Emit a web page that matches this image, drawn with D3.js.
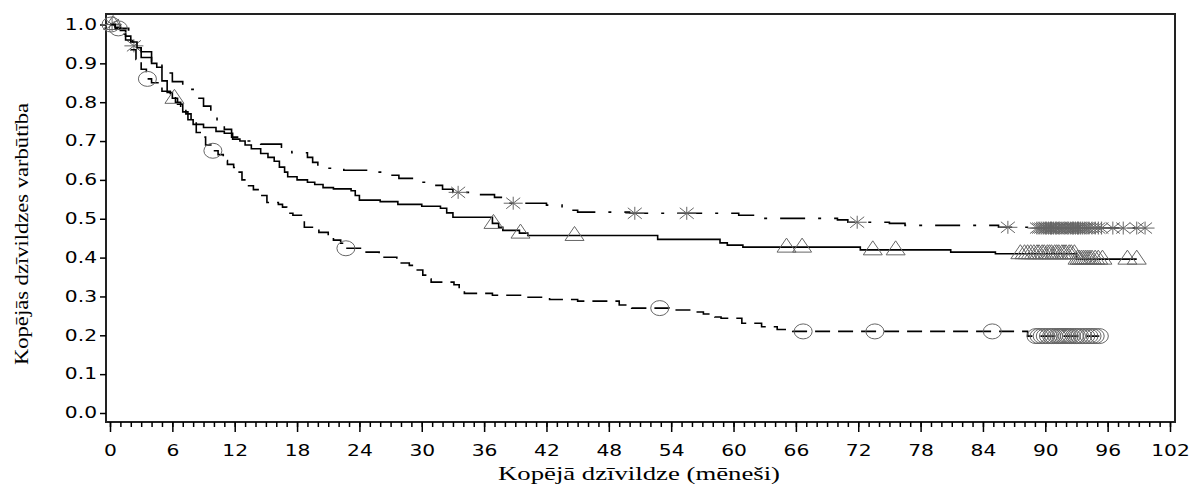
<!DOCTYPE html>
<html>
<head>
<meta charset="utf-8">
<script src="https://d3js.org/d3.v7.min.js"></script>
<style>
  body { margin: 0; background: #fff; }
  .axis text { font-family: "DejaVu Sans", sans-serif; font-size: 15px; fill: #000; }
  .axis line { stroke: #000; stroke-width: 1.5; }
  .title { font-family: "Liberation Serif", "Times New Roman", serif; font-size: 19px; fill: #000; }
</style>
</head>
<body>
<div id="chart"></div>
<script>
// Tick labels
const xTicks = [0, 6, 12, 18, 24, 30, 36, 42, 48, 54, 60, 66, 72, 78, 84, 90, 96, 102];
const yTicks = [0, 0.1, 0.2, 0.3, 0.4, 0.5, 0.6, 0.7, 0.8, 0.9, 1.0];

// Group 1: dash-dot, asterisk censor marks
const months1 = [0, 1, 1.8, 2.2, 3, 4, 5, 6, 7, 8, 9, 9.7, 10.3, 11, 11.7, 12.5, 14.5, 16.5, 17.5, 19, 19.5, 20, 21, 22.5, 25, 26.5, 27.8, 29.5, 31, 32, 33, 35.5, 37, 38, 38.5, 42, 43.5, 45, 50, 60.5, 62, 70, 71, 75, 76.5, 85.5, 88.5, 99.6];
const surv1 = [1, 0.99, 0.965, 0.945, 0.93, 0.905, 0.875, 0.853, 0.833, 0.81, 0.79, 0.77, 0.75, 0.73, 0.71, 0.70, 0.692, 0.684, 0.67, 0.658, 0.645, 0.635, 0.63, 0.625, 0.62, 0.612, 0.604, 0.594, 0.586, 0.576, 0.568, 0.562, 0.555, 0.545, 0.54, 0.535, 0.522, 0.517, 0.514, 0.509, 0.501, 0.497, 0.491, 0.488, 0.483, 0.478, 0.476, 0.476];
const censor1 = [0.2, 2.3, 33.5, 38.8, 50.5, 55.5, 71.9, 86.4, 89.2, 89.4, 89.6, 89.8, 90, 90.1, 90.3, 90.5, 90.6, 90.8, 91, 91.1, 91.3, 91.4, 91.6, 91.8, 91.9, 92.1, 92.2, 92.4, 92.6, 92.7, 92.9, 93.1, 93.2, 93.4, 93.6, 93.8, 94, 94.2, 94.5, 94.8, 95.1, 95.4, 96.5, 97.5, 98.8, 99.6];

// Group 2: solid, triangle censor marks
const months2 = [0, 0.5, 1, 1.5, 2, 2.6, 3, 4, 4.5, 5, 5.5, 6, 6.5, 7, 7.5, 8, 9, 10.2, 11, 11.8, 12.5, 13, 13.6, 14.5, 15.2, 15.8, 16.3, 16.8, 17.1, 18, 19, 19.7, 20.5, 21.5, 23.2, 23.6, 24, 26, 27.7, 30, 31.8, 32.4, 33, 36.8, 37.4, 37.8, 39.4, 40.2, 52.7, 58.7, 59.4, 60.9, 72.2, 80.9, 85.2, 93, 98.8];
const surv2 = [1, 0.993, 0.985, 0.97, 0.955, 0.94, 0.915, 0.9, 0.89, 0.855, 0.825, 0.81, 0.795, 0.775, 0.755, 0.743, 0.735, 0.725, 0.72, 0.705, 0.70, 0.69, 0.68, 0.668, 0.658, 0.648, 0.633, 0.62, 0.608, 0.60, 0.594, 0.588, 0.58, 0.577, 0.572, 0.56, 0.548, 0.544, 0.537, 0.532, 0.527, 0.515, 0.504, 0.488, 0.478, 0.47, 0.463, 0.457, 0.447, 0.438, 0.432, 0.427, 0.42, 0.414, 0.41, 0.396, 0.396];
const censor2 = [0.3, 6.2, 36.9, 39.5, 44.7, 65.1, 66.6, 73.4, 75.6, 87.6, 88, 88.3, 88.6, 88.9, 89.2, 89.4, 89.7, 89.9, 90.2, 90.4, 90.6, 90.9, 91.1, 91.3, 91.6, 91.8, 92, 92.3, 92.5, 92.8, 93.1, 93.3, 93.5, 93.7, 93.9, 94.1, 94.3, 94.5, 94.8, 95.1, 95.5, 97.9, 98.8];

// Group 3: dashed, circle censor marks
const months3 = [0, 0.5, 1, 1.5, 2, 2.5, 3, 3.5, 4, 4.7, 5, 5.8, 6.3, 6.8, 7.3, 7.8, 8.3, 8.8, 9.2, 9.7, 10.4, 10.9, 11.3, 11.9, 12.3, 12.7, 13.2, 13.8, 14.4, 15.1, 16.2, 16.6, 17, 17.6, 18.5, 18.7, 20.1, 21, 21.5, 22.2, 22.7, 24.3, 25.9, 27.6, 28.8, 29.3, 30.1, 30.5, 30.9, 33.1, 33.6, 34.1, 36.8, 39.5, 42.3, 45, 49, 50.2, 53.8, 56.3, 57.1, 58.2, 58.8, 60.8, 62.7, 64.2, 65.7, 88.3, 95.2];
const surv3 = [1, 0.99, 0.975, 0.96, 0.935, 0.91, 0.885, 0.86, 0.85, 0.84, 0.828, 0.815, 0.80, 0.79, 0.77, 0.75, 0.722, 0.71, 0.69, 0.675, 0.665, 0.65, 0.64, 0.632, 0.62, 0.60, 0.585, 0.575, 0.56, 0.542, 0.537, 0.53, 0.514, 0.509, 0.496, 0.478, 0.465, 0.452, 0.445, 0.437, 0.424, 0.414, 0.401, 0.386, 0.38, 0.368, 0.355, 0.345, 0.337, 0.33, 0.318, 0.308, 0.303, 0.298, 0.292, 0.288, 0.278, 0.27, 0.265, 0.26, 0.255, 0.247, 0.244, 0.231, 0.222, 0.215, 0.21, 0.198, 0.198];
const censor3 = [0.1, 0.8, 3.6, 9.9, 22.7, 52.9, 66.7, 73.6, 84.9, 89.1, 89.4, 89.7, 90, 90.3, 90.6, 90.8, 91.1, 91.3, 91.5, 91.7, 91.9, 92.1, 92.3, 92.5, 92.8, 93, 93.3, 93.6, 93.9, 94.2, 94.5, 94.8, 95.2];

const groups = [
  { months: months1, surv: surv1, censor: censor1, dash: '25,13,3,13', mark: 'star' },
  { months: months2, surv: surv2, censor: censor2, dash: null, mark: 'triangle' },
  { months: months3, surv: surv3, censor: censor3, dash: '15,8', mark: 'circle' }
];

const width = 1191, height = 484;

const x = d3.scaleLinear().domain([0, 102]).range([110, 1170]);
const y = d3.scaleLinear().domain([0, 1]).range([413, 24.5]);

const svg = d3.select('#chart')
  .append('svg')
    .attr('width', width)
    .attr('height', height);

// plot frame
svg.append('rect')
  .attr('x', 106).attr('y', 14)
  .attr('width', 1175 - 106).attr('height', 422 - 14)
  .attr('fill', 'none')
  .attr('stroke', '#222')
  .attr('stroke-width', 2);

// minor x ticks (every month)
svg.append('g')
  .attr('class', 'axis')
  .attr('transform', 'translate(0,422)')
  .call(d3.axisBottom(x).tickValues(d3.range(0, 103, 1)).tickSize(5).tickFormat(''))
  .call(g => g.select('.domain').remove())
  .call(g => g.selectAll('line').attr('stroke-width', 1).attr('stroke', '#333'));

// major x ticks
svg.append('g')
  .attr('class', 'axis')
  .attr('transform', 'translate(0,422)')
  .call(d3.axisBottom(x).tickValues(xTicks).tickSize(10).tickPadding(13))
  .call(g => g.select('.domain').remove())
  .call(g => g.selectAll('text').attr('transform', 'scale(1.35,1)'));

// y axis
svg.append('g')
  .attr('class', 'axis')
  .attr('transform', 'translate(106,0)')
  .call(d3.axisLeft(y).tickValues(yTicks).tickSize(6).tickFormat(d3.format('.1f')))
  .call(g => g.select('.domain').remove())
  .call(g => g.selectAll('text').attr('x', -9 / 1.35).attr('transform', 'scale(1.35,1)'));

const line = d3.line()
  .x(d => x(d[0]))
  .y(d => y(d[1]))
  .curve(d3.curveStepAfter);

const survAt = (g, t) => g.surv[Math.max(0, d3.bisectRight(g.months, t) - 1)];

const markPath = {
  star: 'M-9.5,0H9.5M0,-6.5V6.5M-7,-5.5L7,5.5M-7,5.5L7,-5.5',
  triangle: 'M0,-9L9.5,5H-9.5Z',
  circle: 'M-9,0A9,7.5 0 1,0 9,0A9,7.5 0 1,0 -9,0Z'
};

groups.forEach(g => {
  svg.append('path')
    .datum(d3.zip(g.months, g.surv))
    .attr('d', line)
    .attr('fill', 'none')
    .attr('stroke', '#000')
    .attr('stroke-width', 1.6)
    .attr('stroke-dasharray', g.dash);

  svg.append('g')
    .selectAll('path')
    .data(g.censor)
    .join('path')
      .attr('transform', t => 'translate(' + x(t) + ',' + y(survAt(g, t)) + ')')
      .attr('d', markPath[g.mark])
      .attr('fill', 'none')
      .attr('stroke', '#666')
      .attr('stroke-width', 1);
});

// axis titles
svg.append('text')
  .attr('class', 'title')
  .attr('x', 498).attr('y', 480)
  .attr('textLength', 282)
  .attr('lengthAdjust', 'spacingAndGlyphs')
  .text('Kopējā dzīvildze (mēneši)');

svg.append('text')
  .attr('class', 'title')
  .attr('transform', 'translate(28,234) rotate(-90)')
  .attr('text-anchor', 'middle')
  .attr('textLength', 262)
  .attr('lengthAdjust', 'spacingAndGlyphs')
  .text('Kopējās dzīvildzes varbūtība');
</script>
</body>
</html>
